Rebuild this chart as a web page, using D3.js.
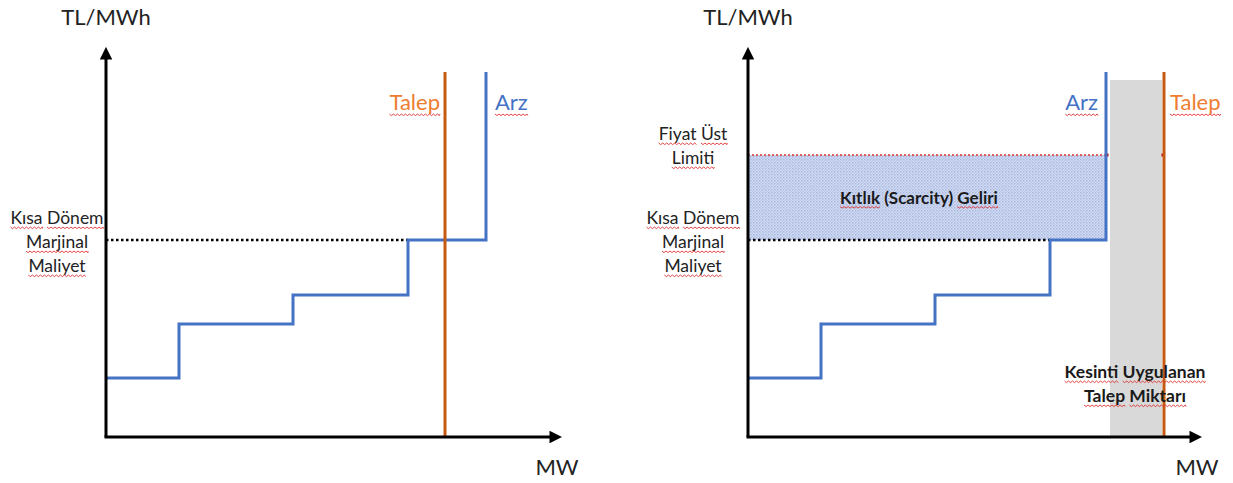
<!DOCTYPE html>
<html><head><meta charset="utf-8">
<script src="https://cdn.jsdelivr.net/npm/d3@7"></script>
<style>body{margin:0;background:#fff}svg{display:block}text{font-family:Lato,"Open Sans",sans-serif}</style>
</head><body>
<svg id="c" width="1233" height="483"></svg>
<script>
// ---- data (MW, TL/MWh in arbitrary units) ----
const leftSupplyMW    = [0, 73, 187, 302, 380];
const leftSupplyPrice = [59, 113, 142, 197, 365];
const leftDemandMW = 339;
const rightSupplyMW    = [0, 73, 187, 302, 358];
const rightSupplyPrice = [59, 113, 142, 197, 365];
const rightDemandMW = 416;
const shortRunMC = 197;
const priceCap = 282;
const curtailFrom = 362, curtailTo = 414, curtailTop = 357;
const yLabel = "TL/MWh", xLabel = "MW";
const mcLabel = ["Kısa Dönem", "Marjinal", "Maliyet"];
const capLabel = ["Fiyat Üst", "Limiti"];
const scarcityLabel = "Kıtlık (Scarcity) Geliri";
const curtailLabel = ["Kesinti Uygulanan", "Talep Miktarı"];

const svg = d3.select("#c");
const defs = svg.append("defs");
defs.append("marker").attr("id","arr").attr("viewBox","0 0 10 10").attr("refX",2).attr("refY",5)
  .attr("markerWidth",4.2).attr("markerHeight",4.2).attr("orient","auto-start-reverse")
  .append("path").attr("d","M0,0L10,5L0,10z").attr("fill","#000");
const pat = defs.append("pattern").attr("id","hatch").attr("width",3).attr("height",3).attr("patternUnits","userSpaceOnUse");
pat.append("rect").attr("width",3).attr("height",3).attr("fill","#d3dcf2");
pat.append("rect").attr("width",1.5).attr("height",1.5).attr("fill","#a6b6e0");
pat.append("rect").attr("x",1.5).attr("y",1.5).attr("width",1.5).attr("height",1.5).attr("fill","#b8c6e8");

const BLUE="#4472C4", ORANGE_LINE="#C55A11", ORANGE_TXT="#ED7D31";

function squiggle(g, textSel, words){
  const node = textSel.node();
  const full = node.textContent;
  const bb = node.getBBox();
  words.forEach(w=>{
    const i = full.indexOf(w); if(i<0) return;
    const x0 = bb.x + (i>0? node.getSubStringLength(0,i):0);
    const wl = node.getSubStringLength(i,w.length);
    const y = bb.y + bb.height - 1;
    let d = `M${x0},${y}`;
    for(let x=x0, k=0; x<x0+wl; x+=2, k++) d += `L${Math.min(x+2,x0+wl)},${y + (k%2?0:1.6)}`;
    g.append("path").attr("d",d).attr("fill","none").attr("stroke","#e03030").attr("stroke-width",0.9);
  });
}

function panel(ox, axisEnd, supMW, supP, demMW, right){
  const x = d3.scaleLinear().domain([0,450]).range([ox, ox+450]);
  const y = d3.scaleLinear().domain([0,400]).range([437, 37]);
  const g = svg.append("g");

  if(right){
    g.append("rect").attr("x",x(curtailFrom)).attr("y",y(curtailTop)).attr("width",x(curtailTo)-x(curtailFrom))
      .attr("height",y(0)-y(curtailTop)).attr("fill","#d9d9d9");
    g.append("rect").attr("x",x(0)).attr("y",y(priceCap)).attr("width",x(supMW[supMW.length-1])-x(0))
      .attr("height",y(shortRunMC)-y(priceCap)).attr("fill","url(#hatch)");
    g.append("line").attr("x1",x(0)).attr("x2",x(supMW[supMW.length-1])).attr("y1",y(priceCap)).attr("y2",y(priceCap))
      .attr("stroke","#e03030").attr("stroke-width",1.3).attr("stroke-dasharray","2,2");
    [supMW[supMW.length-1]+1, demMW-1].forEach(v=>g.append("rect").attr("x",x(v)-1.5).attr("y",y(priceCap)-1.5)
      .attr("width",3).attr("height",3).attr("fill","#c00000"));
  }
  // dotted short-run MC line
  g.append("line").attr("x1",x(0)).attr("x2",x(supMW[3])).attr("y1",y(shortRunMC)).attr("y2",y(shortRunMC))
    .attr("stroke","#000").attr("stroke-width",2.5).attr("stroke-dasharray","2.5,2.5");

  // supply step line
  const pts = [];
  supMW.forEach((m,i)=>{
    if(i>0) pts.push([m, supP[i-1]]);
    if(i<supMW.length-1) pts.push([m, supP[i]]);
  });
  pts.push([supMW[supMW.length-1], supP[supP.length-1]]);
  g.append("path").attr("d", d3.line().x(d=>x(d[0])).y(d=>y(d[1]))(pts))
    .attr("fill","none").attr("stroke",BLUE).attr("stroke-width",3);

  // demand
  g.append("line").attr("x1",x(demMW)).attr("x2",x(demMW)).attr("y1",y(0)).attr("y2",y(365))
    .attr("stroke",ORANGE_LINE).attr("stroke-width",3);

  // axes
  g.append("path").attr("d",`M${x(0)},${y(0)}L${x(0)},${y(380)}`).attr("stroke","#000").attr("stroke-width",3)
    .attr("fill","none").attr("marker-end","url(#arr)");
  g.append("path").attr("d",`M${x(0)-1.5},${y(0)}L${x(axisEnd)},${y(0)}`).attr("stroke","#000").attr("stroke-width",3)
    .attr("fill","none").attr("marker-end","url(#arr)");

  g.append("text").attr("x",x(0)).attr("y",25).attr("text-anchor","middle").attr("font-size",22).attr("fill","#222").text(yLabel);
  g.append("text").attr("x",x(axisEnd)+5).attr("y",475).attr("text-anchor","middle").attr("font-size",22).attr("fill","#222").text(xLabel);

  // labels for lines
  const lblY = 110;
  const supX = x(supMW[supMW.length-1]), demX = x(demMW);
  let tT, tA;
  if(!right){
    tT = g.append("text").attr("x",demX-5).attr("y",lblY).attr("text-anchor","end").attr("font-size",22).attr("fill",ORANGE_TXT).text("Talep");
    tA = g.append("text").attr("x",supX+9).attr("y",lblY).attr("text-anchor","start").attr("font-size",22).attr("fill",BLUE).text("Arz");
  } else {
    tA = g.append("text").attr("x",supX-8).attr("y",lblY).attr("text-anchor","end").attr("font-size",22).attr("fill",BLUE).text("Arz");
    tT = g.append("text").attr("x",demX+6).attr("y",lblY).attr("text-anchor","start").attr("font-size",22).attr("fill",ORANGE_TXT).text("Talep");
  }
  squiggle(g,tT,["Talep"]); squiggle(g,tA,["Arz"]);

  // left-side MC label
  const lx = x(0) - (right?55:49);
  mcLabel.forEach((s,i)=>{
    const t = g.append("text").attr("x",lx).attr("y",y(shortRunMC)-16+i*24).attr("text-anchor","middle")
      .attr("font-size",17.5).attr("fill","#222").text(s);
    squiggle(g,t,s==="Kısa Dönem"?["Kısa","Dönem"]:[s]);
  });
  if(right){
    capLabel.forEach((s,i)=>{
      const t = g.append("text").attr("x",lx).attr("y",y(priceCap)-15+i*24).attr("text-anchor","middle")
        .attr("font-size",17.5).attr("fill","#222").text(s);
      squiggle(g,t,s==="Fiyat Üst"?["Fiyat","Üst"]:[s]);
    });
    const ts = g.append("text").attr("x",(x(0)+supX)/2-8).attr("y",y((priceCap+shortRunMC)/2)+6).attr("text-anchor","middle")
      .attr("font-size",17).attr("font-weight","bold").attr("fill","#1a1a1a").text(scarcityLabel);
    squiggle(g,ts,["Kıtlık","Geliri"]);
    curtailLabel.forEach((s,i)=>{
      const t = g.append("text").attr("x",(x(curtailFrom)+x(curtailTo))/2-1).attr("y",378+i*24).attr("text-anchor","middle")
        .attr("font-size",17.5).attr("font-weight","bold").attr("fill","#1a1a1a").text(s);
      squiggle(g,t,s.split(" "));
    });
  }
}
panel(106, 446, leftSupplyMW, leftSupplyPrice, leftDemandMW, false);
panel(748, 444, rightSupplyMW, rightSupplyPrice, rightDemandMW, true);
</script>
</body></html>
